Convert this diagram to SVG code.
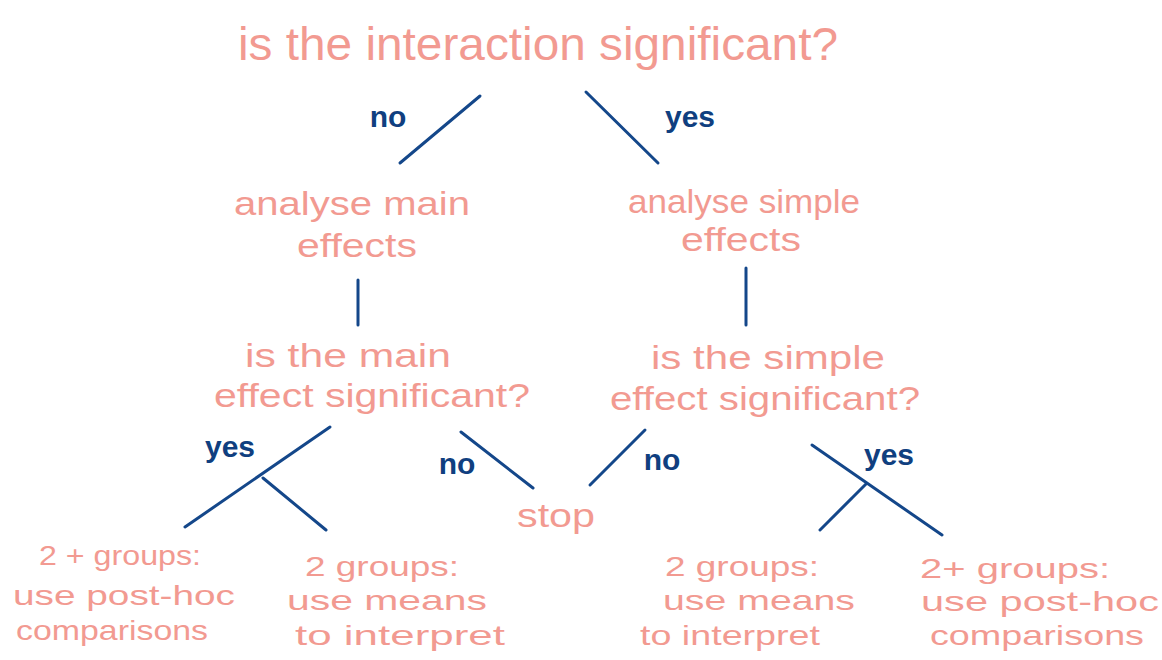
<svg xmlns="http://www.w3.org/2000/svg" width="1162" height="660" viewBox="0 0 1162 660">
<style>
.t{font-family:"Liberation Sans",Arial,sans-serif;fill:#f29a91;text-anchor:middle}
.b{font-size:28px}
.l{font-family:"Liberation Sans",Arial,sans-serif;fill:#103f80;font-weight:bold;text-anchor:middle;font-size:30px}
.c line{stroke:#14478a;stroke-width:3;stroke-linecap:round}
</style>
<rect width="1162" height="660" fill="#ffffff"/>
<g id="q1"><text class="t" x="538" y="60" font-size="46" textLength="600" lengthAdjust="spacingAndGlyphs">is the interaction significant?</text></g>
<g id="main"><text class="t" x="352" y="215" font-size="34" textLength="236" lengthAdjust="spacingAndGlyphs">analyse main</text><text class="t" x="357" y="257" font-size="34" textLength="120" lengthAdjust="spacingAndGlyphs">effects</text></g>
<g id="simple"><text class="t" x="744" y="213" font-size="34" textLength="232" lengthAdjust="spacingAndGlyphs">analyse simple</text><text class="t" x="741" y="251" font-size="34" textLength="120" lengthAdjust="spacingAndGlyphs">effects</text></g>
<g id="q2"><text class="t" x="348" y="367" font-size="34" textLength="206" lengthAdjust="spacingAndGlyphs">is the main</text><text class="t" x="372" y="407" font-size="34" textLength="316" lengthAdjust="spacingAndGlyphs">effect significant?</text></g>
<g id="q3"><text class="t" x="768" y="369" font-size="34" textLength="234" lengthAdjust="spacingAndGlyphs">is the simple</text><text class="t" x="765" y="410" font-size="34" textLength="310" lengthAdjust="spacingAndGlyphs">effect significant?</text></g>
<g id="stop"><text class="t" x="556" y="527" font-size="34" textLength="78" lengthAdjust="spacingAndGlyphs">stop</text></g>
<g id="leaf1"><text class="t b" x="120" y="565" textLength="162" lengthAdjust="spacingAndGlyphs">2 + groups:</text><text class="t b" x="124" y="605" textLength="222" lengthAdjust="spacingAndGlyphs">use post-hoc</text><text class="t b" x="112" y="640" textLength="192" lengthAdjust="spacingAndGlyphs">comparisons</text></g>
<g id="leaf2"><text class="t b" x="382" y="576" textLength="154" lengthAdjust="spacingAndGlyphs">2 groups:</text><text class="t b" x="387" y="610" textLength="200" lengthAdjust="spacingAndGlyphs">use means</text><text class="t b" x="400" y="645" textLength="210" lengthAdjust="spacingAndGlyphs">to interpret</text></g>
<g id="leaf3"><text class="t b" x="742" y="576" textLength="154" lengthAdjust="spacingAndGlyphs">2 groups:</text><text class="t b" x="759" y="610" textLength="192" lengthAdjust="spacingAndGlyphs">use means</text><text class="t b" x="730" y="645" textLength="180" lengthAdjust="spacingAndGlyphs">to interpret</text></g>
<g id="leaf4"><text class="t b" x="1015" y="578" textLength="190" lengthAdjust="spacingAndGlyphs">2+ groups:</text><text class="t b" x="1040" y="611" textLength="238" lengthAdjust="spacingAndGlyphs">use post-hoc</text><text class="t b" x="1037" y="645" textLength="214" lengthAdjust="spacingAndGlyphs">comparisons</text></g>
<g id="connectors" class="c">
<line x1="480" y1="96" x2="400" y2="163"/>
<line x1="586" y1="92" x2="658" y2="163"/>
<line x1="358" y1="280" x2="358" y2="325"/>
<line x1="746" y1="268" x2="746" y2="325"/>
<line x1="330" y1="427" x2="185" y2="527"/>
<line x1="263" y1="478" x2="326" y2="530"/>
<line x1="461" y1="432" x2="533" y2="488"/>
<line x1="645" y1="430" x2="590" y2="485"/>
<line x1="812" y1="445" x2="942" y2="535"/>
<line x1="866" y1="484" x2="820" y2="530"/>
</g>
<g id="labels">
<text class="l" x="388" y="127">no</text>
<text class="l" x="690" y="127">yes</text>
<text class="l" x="230" y="457">yes</text>
<text class="l" x="457" y="474">no</text>
<text class="l" x="662" y="470">no</text>
<text class="l" x="889" y="465">yes</text>
</g>
</svg>
